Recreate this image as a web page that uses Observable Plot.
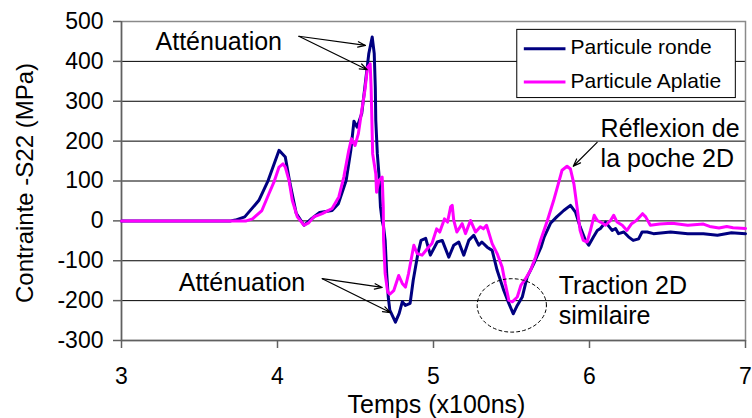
<!DOCTYPE html>
<html><head><meta charset="utf-8">
<script src="https://cdn.jsdelivr.net/npm/d3@7"></script>
<script src="https://cdn.jsdelivr.net/npm/@observablehq/plot@0.6"></script>
<style>body{margin:0;background:#fff}</style>
</head><body><div id="chart"></div>
<script>
// ---- data ----
const seriesNames = ["Particule ronde", "Particule Aplatie"];
const tRonde = [3.00,3.70,3.73,3.79,3.88,3.94,4.01,4.05,4.08,4.12,4.17,4.22,4.27,4.35,4.39,4.44,4.47,4.49,4.51,4.54,4.56,4.585,4.607,4.62,4.627,4.63,4.64,4.65,4.66,4.671,4.68,4.69,4.70,4.71,4.72,4.756,4.78,4.80,4.82,4.85,4.87,4.90,4.92,4.95,4.98,5.024,5.056,5.098,5.13,5.162,5.194,5.226,5.258,5.29,5.31,5.344,5.376,5.408,5.45,5.483,5.511,5.537,5.569,5.60,5.643,5.69,5.71,5.75,5.79,5.835,5.878,5.91,5.94,5.974,5.995,6.026,6.05,6.07,6.103,6.123,6.145,6.167,6.186,6.22,6.25,6.28,6.315,6.337,6.37,6.41,6.52,6.63,6.73,6.82,6.91,7.00];
const sRonde = [0,0,2,10,51,101,177,160,94,19,-11,6,21,26,43,101,177,250,235,269,335,419,461,420,335,252,168,118,35,0,-15,-49,-132,-191,-224,-254,-232,-203,-212,-207,-149,-82,-49,-44,-86,-53,-49,-91,-61,-53,-86,-49,-36,-61,-53,-66,-74,-124,-174,-207,-233,-212,-191,-141,-107,-65,-40,-6,10,26,39,22,-15,-49,-61,-40,-24,-19,-3,-13,-24,-19,-32,-28,-40,-49,-45,-28,-28,-32,-28,-32,-32,-36,-30,-32];
const tAplatie = [3.00,3.80,3.84,3.90,3.945,3.977,4.01,4.035,4.05,4.074,4.095,4.127,4.17,4.20,4.233,4.287,4.35,4.393,4.425,4.457,4.474,4.497,4.518,4.54,4.56,4.577,4.594,4.60,4.605,4.61,4.63,4.635,4.65,4.671,4.678,4.68,4.69,4.706,4.72,4.745,4.777,4.80,4.82,4.84,4.874,4.895,4.927,4.96,4.99,5.02,5.04,5.07,5.09,5.11,5.12,5.13,5.15,5.184,5.205,5.237,5.27,5.30,5.32,5.34,5.376,5.408,5.44,5.46,5.483,5.505,5.537,5.56,5.59,5.622,5.654,5.686,5.73,5.77,5.80,5.824,5.856,5.878,5.90,5.92,5.94,5.96,5.985,6.006,6.03,6.05,6.07,6.103,6.135,6.155,6.177,6.21,6.24,6.27,6.30,6.34,6.36,6.39,6.45,6.53,6.63,6.73,6.77,6.83,6.88,6.92,7.00];
const sAplatie = [0,0,5,26,68,97,135,143,135,101,51,10,-11,-5,10,18,31,60,110,177,206,189,218,277,327,385,394,335,252,168,118,72,101,110,35,-49,-132,-178,-184,-175,-137,-157,-166,-132,-61,-82,-86,-70,-57,-20,-28,5,-3,35,39,1,-28,-7,-32,1,-28,-15,-20,-11,-57,-82,-116,-157,-199,-203,-191,-162,-145,-124,-91,-49,1,51,93,127,137,130,93,35,-24,-49,-53,-24,14,1,-3,-11,1,14,-3,-11,-24,-7,1,18,10,-11,-8,-6,-11,-8,-14,-18,-14,-17,-19];
const xTicks = [3,4,5,6,7];
const xTickLabels = ["3","4","5","6","7"];
const yTicks = [-300,-200,-100,0,100,200,300,400,500];
const yTickLabels = ["-300","-200","-100","0","100","200","300","400","500"];
const gridY = [-200,-100,0,100,200,300,400];
const xTitle = "Temps (x100ns)";
const yTitle = "Contrainte -S22 (MPa)";
const annoTexts = ["Atténuation", "Atténuation", "Réflexion de\nla poche 2D", "Traction 2D\nsimilaire"];

// ---- build tables ----
const ronde = tRonde.map((t, i) => ({t, s: sRonde[i]}));
const aplatie = tAplatie.map((t, i) => ({t, s: sAplatie[i]}));
const colors = ["#000080", "#FF00FF"];
const FONT = "'Liberation Sans', Arial, Helvetica, sans-serif";

// annotation layout (data space)
const annoPos = [
  {x: 3.218, y: 429},
  {x: 3.367, y: -176},
  {x: 6.071, y: 134},
  {x: 5.803, y: -259}
];
const annos = annoTexts.map((text, i) => ({text, ...annoPos[i]}));
const arrows = [
  {x1: 4.137, y1: 463, x2: 4.564, y2: 440},
  {x1: 4.137, y1: 463, x2: 4.575, y2: 379},
  {x1: 4.287, y1: -145, x2: 4.671, y2: -167},
  {x1: 4.287, y1: -145, x2: 4.724, y2: -230},
  {x1: 6.049, y1: 197, x2: 5.896, y2: 137}
];
// dashed ellipse around the 2D traction minimum
const ell = {cx: 5.502, cy: -212, rx: 0.222, ry: 67};
const ellipse = d3.range(0, 73).map(k => {
  const a = k / 72 * 2 * Math.PI;
  return {x: ell.cx + ell.rx * Math.cos(a), y: ell.cy + ell.ry * Math.sin(a)};
});
// legend layout (data space)
const legBox = [{x1: 5.537, x2: 6.938, y1: 308, y2: 479}];
const legRows = seriesNames.map((name, i) => ({
  name, color: colors[i],
  lx1: 5.579, lx2: 5.846, ly: [431.6, 348][i],
  tx: 5.878, ty: [436, 351][i]
}));

const chart = Plot.plot({
  width: 752, height: 418,
  marginLeft: 121, marginRight: 7, marginTop: 21, marginBottom: 78,
  style: {fontFamily: FONT, fontSize: "23px", color: "#000", background: "#fff", overflow: "visible"},
  x: {domain: [3, 7]},
  y: {domain: [-300, 500]},
  marks: [
    Plot.ruleY(gridY, {stroke: "#000", strokeWidth: 1}),
    Plot.frame({stroke: "#8a8a8a", strokeWidth: 1.5}),
    Plot.ruleX([3], {stroke: "#606060", strokeWidth: 1.5}),
    Plot.ruleY([-300], {stroke: "#606060", strokeWidth: 1.5}),
    Plot.axisY({ticks: yTicks, tickSize: 8, tickPadding: 10, tickFormat: d => yTickLabels[yTicks.indexOf(d)], label: null, stroke: "#606060", strokeWidth: 1.5, fontSize: 23}),
    Plot.axisX({ticks: xTicks, tickSize: 8, tickPadding: 19, tickFormat: d => xTickLabels[xTicks.indexOf(d)], label: null, stroke: "#606060", strokeWidth: 1.5, fontSize: 23}),
    Plot.text([yTitle], {frameAnchor: "left", textAnchor: "middle", lineAnchor: "middle", dx: -96, dy: 2, rotate: -90, fontSize: 24, fill: "#000"}),
    Plot.text([xTitle], {frameAnchor: "bottom", textAnchor: "middle", lineAnchor: "bottom", dx: 3, dy: 72, fontSize: 25, fill: "#000"}),
    Plot.line(ronde, {x: "t", y: "s", stroke: colors[0], strokeWidth: 3, curve: "linear"}),
    Plot.line(aplatie, {x: "t", y: "s", stroke: colors[1], strokeWidth: 3, curve: "linear"}),
    Plot.line(ellipse, {x: "x", y: "y", stroke: "#000", strokeWidth: 1, strokeDasharray: "3,3"}),
    Plot.arrow(arrows, {x1: "x1", y1: "y1", x2: "x2", y2: "y2", stroke: "#000", strokeWidth: 1.2, headLength: 10, headAngle: 40}),
    Plot.text(annos, {x: "x", y: "y", text: "text", textAnchor: "start", lineAnchor: "bottom", lineHeight: 1.22, fontSize: 25, fill: "#000"}),
    Plot.rect(legBox, {x1: "x1", x2: "x2", y1: "y1", y2: "y2", fill: "#fff", stroke: "#000", strokeWidth: 1}),
    Plot.link(legRows, {x1: "lx1", x2: "lx2", y1: "ly", y2: "ly", stroke: "color", strokeWidth: 3}),
    Plot.text(legRows, {x: "tx", y: "ty", text: "name", textAnchor: "start", fontSize: 21, fill: "#000"})
  ]
});
document.getElementById("chart").appendChild(chart);
</script>
</body></html>
